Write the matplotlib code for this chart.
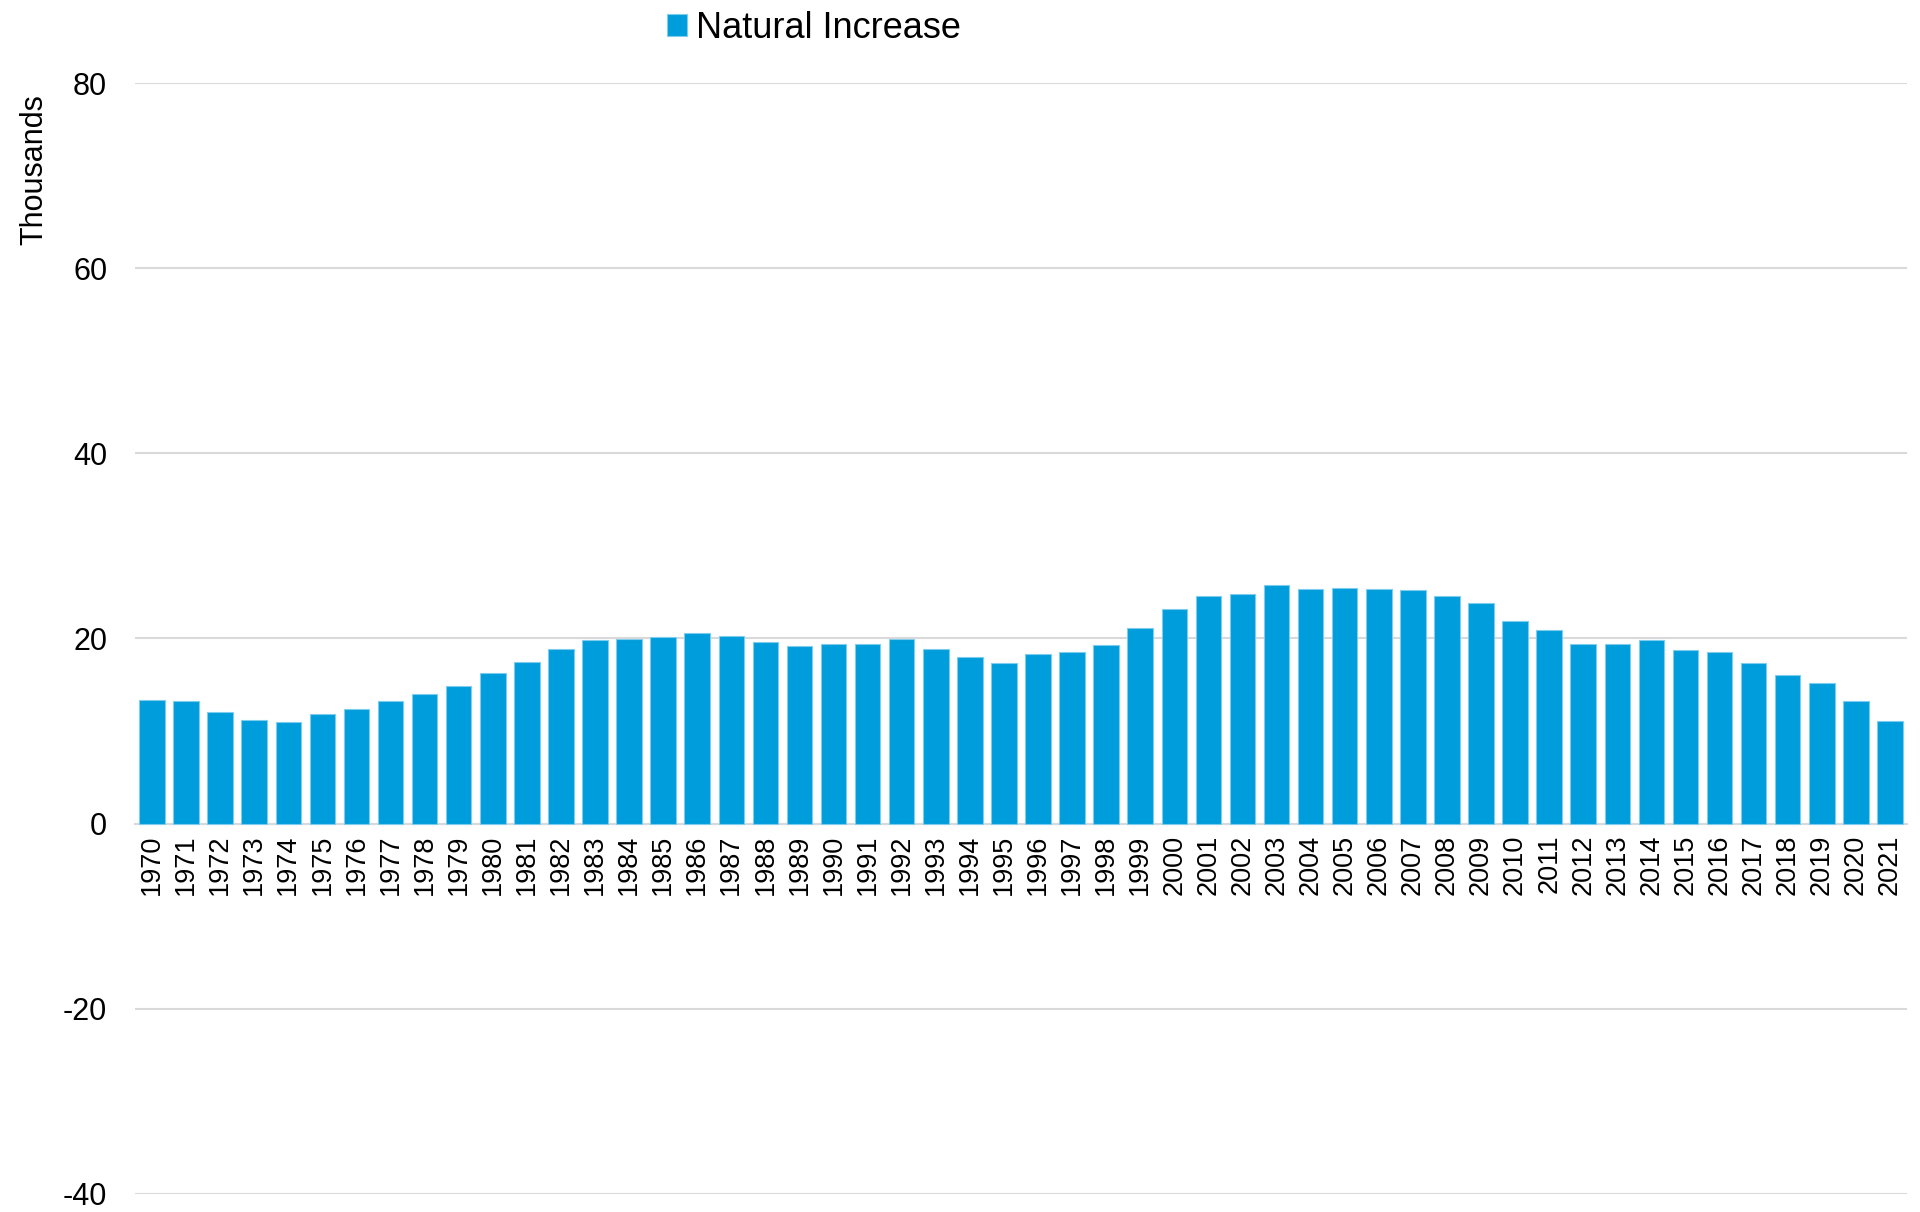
import numpy as np
import matplotlib.pyplot as plt

plt.rcParams['font.family'] = ['Liberation Sans', 'DejaVu Sans']
plt.rcParams['axes.unicode_minus'] = False

years = list(range(1970, 2022))
natural_increase = [13.4, 13.2, 12.1, 11.2, 11.0, 11.8, 12.4, 13.2, 14.0, 14.9,
                    16.3, 17.5, 18.9, 19.8, 19.9, 20.2, 20.6, 20.3, 19.6, 19.2,
                    19.4, 19.4, 19.9, 18.9, 18.0, 17.4, 18.3, 18.5, 19.3, 21.1,
                    23.2, 24.6, 24.8, 25.8, 25.3, 25.5, 25.3, 25.2, 24.6, 23.8,
                    21.9, 20.9, 19.4, 19.4, 19.8, 18.8, 18.5, 17.4, 16.1, 15.2,
                    13.2, 11.1]
y_ticks = [-40, -20, 0, 20, 40, 60, 80]

bar_color = '#009ddc'
grid_color = '#d9d9d9'

fig = plt.figure(figsize=(19.2, 12.12), dpi=100)
ax = fig.add_axes([0.0703, 0.0149, 0.9229, 0.9166])

x = np.arange(len(years))
ax.bar(x, natural_increase, width=0.75, color=bar_color,
       edgecolor='#7fcdee', linewidth=0.8, label='Natural Increase', zorder=3)

ax.set_xlim(-0.5, len(years) - 0.5)
ax.set_ylim(-40, 80)
ax.set_yticks(y_ticks)
ax.yaxis.grid(True, color=grid_color, linewidth=1.5, zorder=0)
ax.set_axisbelow(True)

for side in ['top', 'right', 'left']:
    ax.spines[side].set_visible(False)
ax.spines['bottom'].set_position(('data', 0))
ax.spines['bottom'].set_color(grid_color)
ax.spines['bottom'].set_linewidth(1.5)

ax.set_xticks(x)
ax.set_xticklabels([str(y) for y in years], rotation=90, fontsize=19.5)
ax.tick_params(axis='x', length=0, pad=8)
ax.tick_params(axis='y', length=0, pad=20, labelsize=22)

fig.text(0.018, 0.86, 'Thousands', rotation=90, fontsize=22,
         ha='center', va='center')

fig.legend(loc='upper center', bbox_to_anchor=(0.424, 1.018), frameon=False,
           fontsize=26, handlelength=0.55, handleheight=0.55, handletextpad=0.25)

fig.savefig('out.png', dpi=100)
